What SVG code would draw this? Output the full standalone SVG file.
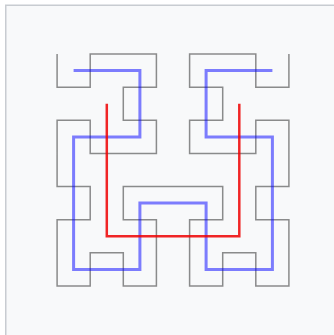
<svg xmlns="http://www.w3.org/2000/svg" width="334" height="335" viewBox="0 0 334 335">
<style>
.bg{fill:#ffffff}
.frame{fill:#f8f9fa;stroke:#c8ccd1;stroke-width:1.5}
.c{fill:none;stroke-linejoin:miter;stroke-linecap:butt}
.o3{stroke:#666666;stroke-opacity:0.75;stroke-width:1.5}
.o2{stroke:#0000ff;stroke-opacity:0.5;stroke-width:3}
.o1{stroke:#ee0000;stroke-opacity:0.85;stroke-width:2.5}
</style>
<rect class="bg" x="0" y="0" width="334" height="335"/>
<rect class="frame" x="5.75" y="5.25" width="340" height="340"/>
<g id="connectors">
<path id="order3" class="c o3" d="M57.1,54.1 L57.1,87.2 L90.2,87.2 L90.2,54.1 L123.3,54.1 L156.4,54.1 L156.4,87.2 L123.3,87.2 L123.3,120.3 L156.4,120.3 L156.4,153.4 L123.3,153.4 L90.2,153.4 L90.2,120.3 L57.1,120.3 L57.1,153.4 L57.1,186.6 L90.2,186.6 L90.2,219.7 L57.1,219.7 L57.1,252.8 L57.1,285.9 L90.2,285.9 L90.2,252.8 L123.3,252.8 L123.3,285.9 L156.4,285.9 L156.4,252.8 L156.4,219.7 L123.3,219.7 L123.3,186.6 L156.4,186.6 L189.6,186.6 L222.7,186.6 L222.7,219.7 L189.6,219.7 L189.6,252.8 L189.6,285.9 L222.7,285.9 L222.7,252.8 L255.8,252.8 L255.8,285.9 L288.9,285.9 L288.9,252.8 L288.9,219.7 L255.8,219.7 L255.8,186.6 L288.9,186.6 L288.9,153.4 L288.9,120.3 L255.8,120.3 L255.8,153.4 L222.7,153.4 L189.6,153.4 L189.6,120.3 L222.7,120.3 L222.7,87.2 L189.6,87.2 L189.6,54.1 L222.7,54.1 L255.8,54.1 L255.8,87.2 L288.9,87.2 L288.9,54.1"/>
<path id="order2" class="c o2" d="M73.6,70.6 L139.9,70.6 L139.9,136.9 L73.6,136.9 L73.6,203.1 L73.6,269.4 L139.9,269.4 L139.9,203.1 L206.1,203.1 L206.1,269.4 L272.4,269.4 L272.4,203.1 L272.4,136.9 L206.1,136.9 L206.1,70.6 L272.4,70.6"/>
<path id="order1" class="c o1" d="M106.8,103.8 L106.8,236.3 L239.3,236.3 L239.3,103.8"/>
</g>
</svg>
